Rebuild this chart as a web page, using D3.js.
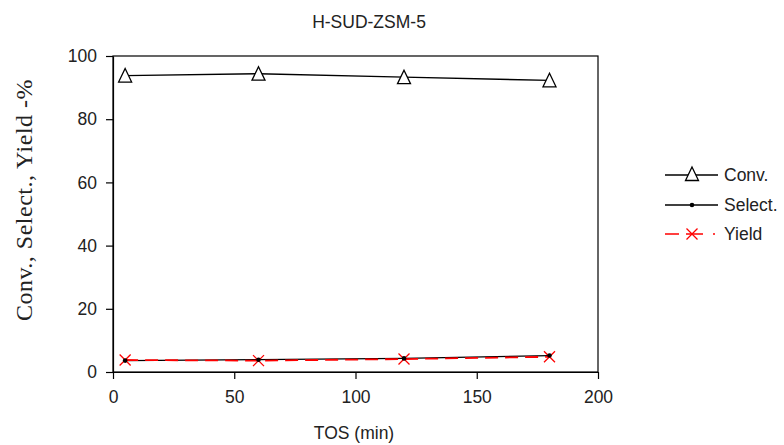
<!DOCTYPE html>
<html><head><meta charset="utf-8">
<script src="https://cdn.jsdelivr.net/npm/d3@7"></script>
<style>body{margin:0;background:#fff}svg{display:block}</style>
</head><body>
<svg id="c" width="784" height="445"></svg>
<script>
const tos = [5, 60, 120, 180];
const conv = [93.8, 94.4, 93.3, 92.3];
const select = [3.6, 3.9, 4.3, 5.2];
const yieldV = [3.8, 3.6, 4.1, 4.8];
const xTicks = [0, 50, 100, 150, 200];
const yTicks = [0, 20, 40, 60, 80, 100];
const seriesNames = ["Conv.", "Select.", "Yield"];

const svg = d3.select("#c");
const x = d3.scaleLinear().domain([0, 200]).range([113, 598]);
const y = d3.scaleLinear().domain([0, 100]).range([372, 56]);
const font = "'Liberation Sans', Arial, sans-serif";
const fs = 17.5;

// frame
svg.append("rect").attr("x", 113).attr("y", 56).attr("width", 485).attr("height", 316)
  .attr("fill", "none").attr("stroke", "#000").attr("stroke-width", 1.2);

const xa = svg.append("g").attr("transform", "translate(0,372)")
  .call(d3.axisBottom(x).tickValues(xTicks).tickSize(7).tickSizeOuter(0).tickPadding(12));
const ya = svg.append("g").attr("transform", "translate(113,0)")
  .call(d3.axisLeft(y).tickValues(yTicks).tickSize(7).tickSizeOuter(0).tickPadding(9));
[xa, ya].forEach(a => {
  a.select(".domain").attr("stroke", "#000").attr("stroke-width", 1.2);
  a.selectAll("line").attr("stroke", "#000").attr("stroke-width", 1.2);
  a.selectAll("text").attr("font-family", font).attr("font-size", fs).attr("fill", "#222");
});

const line = d3.line().x(d => x(d[0])).y(d => y(d[1]));
const g = svg.append("g");
g.append("path").datum(tos.map((t, i) => [t, conv[i]])).attr("d", line)
  .attr("fill", "none").attr("stroke", "#000").attr("stroke-width", 1.4);
g.append("path").datum(tos.map((t, i) => [t, select[i]])).attr("d", line)
  .attr("fill", "none").attr("stroke", "#000").attr("stroke-width", 1.3);
g.append("path").datum(tos.map((t, i) => [t, yieldV[i]])).attr("d", line)
  .attr("fill", "none").attr("stroke", "#ff0000").attr("stroke-width", 1.8).attr("stroke-dasharray", "13,7");

function tri(gg, cx, cy) {
  gg.append("path").attr("d", `M${cx},${cy-7}L${cx+6.5},${cy+6.5}L${cx-6.5},${cy+6.5}Z`)
    .attr("fill", "#fff").attr("stroke", "#000").attr("stroke-width", 1.3);
}
function dot(gg, cx, cy) {
  gg.append("circle").attr("cx", cx).attr("cy", cy).attr("r", 2.3).attr("fill", "#000");
}
function cross(gg, cx, cy) {
  gg.append("path").attr("d", `M${cx-5.5},${cy-5.5}L${cx+5.5},${cy+5.5}M${cx-5.5},${cy+5.5}L${cx+5.5},${cy-5.5}`)
    .attr("stroke", "#ff0000").attr("stroke-width", 1.3);
}
tos.forEach((t, i) => tri(g, x(t), y(conv[i])));
tos.forEach((t, i) => cross(g, x(t), y(yieldV[i])));
tos.forEach((t, i) => dot(g, x(t), y(select[i])));

// title & labels
svg.append("text").attr("x", 369).attr("y", 28).attr("text-anchor", "middle")
  .attr("font-family", font).attr("font-size", fs).attr("fill", "#222").text("H-SUD-ZSM-5");
svg.append("text").attr("x", 354).attr("y", 439).attr("text-anchor", "middle")
  .attr("font-family", font).attr("font-size", fs).attr("fill", "#222").text("TOS (min)");
svg.append("text").attr("transform", "translate(32,200) rotate(-90)").attr("text-anchor", "middle")
  .attr("font-family", "'Liberation Serif', 'Times New Roman', serif").attr("font-size", 24)
  .attr("letter-spacing", 0.5).attr("fill", "#222").text("Conv., Select., Yield -%");

// legend
const lg = svg.append("g");
const rows = [175, 205, 234];
seriesNames.forEach((n, i) => {
  const yy = rows[i];
  const l = lg.append("line").attr("x1", 665).attr("x2", 718).attr("y1", yy).attr("y2", yy)
    .attr("stroke", i === 2 ? "#ff0000" : "#000").attr("stroke-width", i === 2 ? 1.6 : 1.3);
  if (i === 2) l.attr("stroke-dasharray", "14,7,17,10,2,20");
  if (i === 0) tri(lg, 692, yy - 1);
  if (i === 1) dot(lg, 692, yy);
  if (i === 2) cross(lg, 692, yy);
  lg.append("text").attr("x", 724).attr("y", yy + 6).attr("font-family", font).attr("font-size", fs)
    .attr("fill", "#222").text(n);
});
</script>
</body></html>
